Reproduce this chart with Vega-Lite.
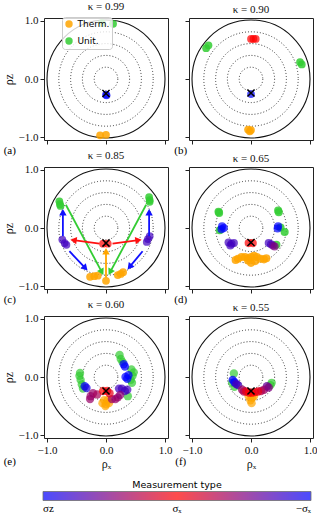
{
"$schema": "https://vega.github.io/schema/vega-lite/v6.json",
"padding": {"left": 1, "top": 0, "right": 0, "bottom": 0},
"datasets": {
"rings": [{"r": 0.2, "style": "dotted"}, {"r": 0.4, "style": "dotted"}, {"r": 0.6, "style": "dotted"}, {"r": 0.8, "style": "dotted"}, {"r": 1.0, "style": "solid"}],
"centers": [{"panel": "a", "x": 0, "y": -0.25}, {"panel": "b", "x": 0, "y": -0.24}, {"panel": "c", "x": 0, "y": -0.26}, {"panel": "d", "x": 0, "y": -0.25}, {"panel": "e", "x": 0, "y": -0.24}, {"panel": "f", "x": 0, "y": -0.24}],
"labels": [{"panel": "a", "label": "(a)", "x": -1.63, "y": -1.24}, {"panel": "b", "label": "(b)", "x": -1.19, "y": -1.24}, {"panel": "c", "label": "(c)", "x": -1.63, "y": -1.24}, {"panel": "d", "label": "(d)", "x": -1.19, "y": -1.24}, {"panel": "e", "label": "(e)", "x": -1.63, "y": -1.47}, {"panel": "f", "label": "(f)", "x": -1.19, "y": -1.47}],
"meas": [
{"panel": "a", "x": 0, "y": -0.27, "m": -1}, {"panel": "a", "x": 0.01, "y": -0.28, "m": -1},
{"panel": "b", "x": 0, "y": -0.26, "m": -1}, {"panel": "b", "x": 0.0, "y": 0.69, "m": 0}, {"panel": "b", "x": 0.04, "y": 0.69, "m": 0}, {"panel": "b", "x": 0.08, "y": 0.69, "m": 0},
{"panel": "c", "x": -0.05, "y": -0.27, "m": 0}, {"panel": "c", "x": 0.03, "y": -0.27, "m": 0},
{"panel": "c", "x": -0.74, "y": -0.2, "m": -0.75}, {"panel": "c", "x": -0.7, "y": -0.26, "m": -0.75}, {"panel": "c", "x": -0.67, "y": -0.29, "m": -0.75},
{"panel": "c", "x": 0.74, "y": -0.14, "m": -0.75}, {"panel": "c", "x": 0.71, "y": -0.19, "m": -0.75}, {"panel": "c", "x": 0.69, "y": -0.24, "m": -0.75},
{"panel": "d", "x": -0.49, "y": 0.03, "m": -1}, {"panel": "d", "x": -0.46, "y": 0.0, "m": -1}, {"panel": "d", "x": -0.5, "y": -0.02, "m": -1}, {"panel": "d", "x": 0.45, "y": -0.01, "m": -1}, {"panel": "d", "x": 0.46, "y": 0.03, "m": -1},
{"panel": "d", "x": -0.38, "y": -0.25, "m": -0.75}, {"panel": "d", "x": -0.33, "y": -0.27, "m": -0.75}, {"panel": "d", "x": -0.29, "y": -0.26, "m": -0.75}, {"panel": "d", "x": -0.35, "y": -0.3, "m": -0.75},
{"panel": "d", "x": 0.3, "y": -0.26, "m": -0.75}, {"panel": "d", "x": 0.34, "y": -0.28, "m": -0.75}, {"panel": "d", "x": 0.37, "y": -0.3, "m": -0.6},
{"panel": "d", "x": 0.4, "y": -0.32, "m": -0.5},
{"panel": "d", "x": -0.04, "y": -0.26, "m": 0}, {"panel": "d", "x": 0.03, "y": -0.26, "m": 0},
{"panel": "e", "x": 0.3, "y": 0.22, "m": -1}, {"panel": "e", "x": 0.32, "y": 0.18, "m": -1}, {"panel": "e", "x": 0.33, "y": 0.0, "m": -1}, {"panel": "e", "x": 0.36, "y": -0.03, "m": -1}, {"panel": "e", "x": 0.38, "y": 0.03, "m": -1}, {"panel": "e", "x": -0.36, "y": -0.16, "m": -1}, {"panel": "e", "x": -0.33, "y": -0.19, "m": -0.9},
{"panel": "e", "x": 0.22, "y": -0.2, "m": -0.75}, {"panel": "e", "x": 0.27, "y": -0.2, "m": -0.75}, {"panel": "e", "x": 0.32, "y": -0.24, "m": -0.75}, {"panel": "e", "x": 0.36, "y": -0.22, "m": -0.75},
{"panel": "e", "x": -0.22, "y": -0.28, "m": -0.4}, {"panel": "e", "x": -0.26, "y": -0.33, "m": -0.4}, {"panel": "e", "x": -0.27, "y": -0.38, "m": -0.4}, {"panel": "e", "x": 0.1, "y": -0.38, "m": -0.4}, {"panel": "e", "x": 0.16, "y": -0.38, "m": -0.4}, {"panel": "e", "x": 0.2, "y": -0.35, "m": -0.4}, {"panel": "e", "x": 0.24, "y": -0.31, "m": -0.45}, {"panel": "e", "x": -0.15, "y": -0.3, "m": -0.35},
{"panel": "e", "x": -0.05, "y": -0.24, "m": 0}, {"panel": "e", "x": 0.02, "y": -0.24, "m": 0}, {"panel": "e", "x": 0.06, "y": -0.28, "m": -0.1},
{"panel": "f", "x": -0.31, "y": -0.05, "m": -1}, {"panel": "f", "x": -0.28, "y": -0.09, "m": -1},
{"panel": "f", "x": -0.22, "y": -0.14, "m": -0.75}, {"panel": "f", "x": -0.25, "y": -0.12, "m": -0.75}, {"panel": "f", "x": 0.27, "y": -0.16, "m": -0.6},
{"panel": "f", "x": -0.15, "y": -0.22, "m": -0.4}, {"panel": "f", "x": -0.12, "y": -0.25, "m": -0.3}, {"panel": "f", "x": 0.22, "y": -0.22, "m": -0.4}, {"panel": "f", "x": 0.3, "y": -0.18, "m": -0.5}, {"panel": "f", "x": 0.17, "y": -0.24, "m": -0.3},
{"panel": "f", "x": -0.08, "y": -0.25, "m": -0.1}, {"panel": "f", "x": -0.03, "y": -0.27, "m": 0}, {"panel": "f", "x": 0.02, "y": -0.27, "m": 0}, {"panel": "f", "x": 0.07, "y": -0.26, "m": 0}, {"panel": "f", "x": 0.12, "y": -0.25, "m": -0.1}
],
"cat": [
{"panel": "a", "x": -0.1, "y": -0.97, "kind": "Therm."}, {"panel": "a", "x": 0.0, "y": -0.96, "kind": "Therm."}, {"panel": "a", "x": 0.12, "y": 0.95, "kind": "Unit."}, {"panel": "a", "x": -0.07, "y": 0.96, "kind": "Unit."},
{"panel": "b", "x": -0.76, "y": 0.53, "kind": "Unit."}, {"panel": "b", "x": -0.72, "y": 0.58, "kind": "Unit."}, {"panel": "b", "x": 0.83, "y": 0.29, "kind": "Unit."}, {"panel": "b", "x": 0.86, "y": 0.25, "kind": "Unit."},
{"panel": "b", "x": -0.05, "y": -0.87, "kind": "Therm."}, {"panel": "b", "x": 0.0, "y": -0.88, "kind": "Therm."}, {"panel": "b", "x": -0.02, "y": -0.9, "kind": "Therm."},
{"panel": "c", "x": -0.79, "y": 0.46, "kind": "Unit."}, {"panel": "c", "x": -0.78, "y": 0.41, "kind": "Unit."}, {"panel": "c", "x": -0.77, "y": 0.38, "kind": "Unit."}, {"panel": "c", "x": 0.73, "y": 0.53, "kind": "Unit."}, {"panel": "c", "x": 0.74, "y": 0.48, "kind": "Unit."}, {"panel": "c", "x": 0.74, "y": 0.45, "kind": "Unit."},
{"panel": "c", "x": -0.27, "y": -0.84, "kind": "Therm."}, {"panel": "c", "x": -0.2, "y": -0.83, "kind": "Therm."}, {"panel": "c", "x": -0.14, "y": -0.82, "kind": "Therm."}, {"panel": "c", "x": 0.0, "y": -0.91, "kind": "Therm."}, {"panel": "c", "x": 0.2, "y": -0.81, "kind": "Therm."}, {"panel": "c", "x": 0.25, "y": -0.79, "kind": "Therm."}, {"panel": "c", "x": 0.29, "y": -0.76, "kind": "Therm."},
{"panel": "d", "x": -0.55, "y": 0.28, "kind": "Unit."}, {"panel": "d", "x": -0.54, "y": 0.26, "kind": "Unit."}, {"panel": "d", "x": 0.46, "y": 0.3, "kind": "Unit."}, {"panel": "d", "x": 0.47, "y": 0.27, "kind": "Unit."}, {"panel": "d", "x": -0.53, "y": -0.04, "kind": "Unit."}, {"panel": "d", "x": 0.5, "y": 0.01, "kind": "Unit."}, {"panel": "d", "x": 0.57, "y": -0.07, "kind": "Unit."}, {"panel": "d", "x": 0.43, "y": -0.29, "kind": "Unit."},
{"panel": "d", "x": -0.26, "y": -0.55, "kind": "Therm."}, {"panel": "d", "x": -0.22, "y": -0.53, "kind": "Therm."}, {"panel": "d", "x": -0.16, "y": -0.5, "kind": "Therm."}, {"panel": "d", "x": -0.1, "y": -0.5, "kind": "Therm."}, {"panel": "d", "x": -0.05, "y": -0.52, "kind": "Therm."}, {"panel": "d", "x": 0.0, "y": -0.5, "kind": "Therm."}, {"panel": "d", "x": 0.05, "y": -0.48, "kind": "Therm."}, {"panel": "d", "x": 0.1, "y": -0.5, "kind": "Therm."}, {"panel": "d", "x": 0.16, "y": -0.53, "kind": "Therm."}, {"panel": "d", "x": 0.22, "y": -0.54, "kind": "Therm."}, {"panel": "d", "x": 0.26, "y": -0.52, "kind": "Therm."}, {"panel": "d", "x": 0.0, "y": -0.6, "kind": "Therm."}, {"panel": "d", "x": -0.05, "y": -0.56, "kind": "Therm."}, {"panel": "d", "x": 0.07, "y": -0.57, "kind": "Therm."},
{"panel": "e", "x": -0.44, "y": 0.07, "kind": "Unit."}, {"panel": "e", "x": -0.45, "y": 0.02, "kind": "Unit."}, {"panel": "e", "x": -0.43, "y": -0.05, "kind": "Unit."}, {"panel": "e", "x": -0.41, "y": -0.13, "kind": "Unit."}, {"panel": "e", "x": -0.39, "y": -0.2, "kind": "Unit."}, {"panel": "e", "x": 0.23, "y": 0.38, "kind": "Unit."}, {"panel": "e", "x": 0.25, "y": 0.31, "kind": "Unit."}, {"panel": "e", "x": 0.28, "y": 0.26, "kind": "Unit."}, {"panel": "e", "x": 0.43, "y": 0.13, "kind": "Unit."}, {"panel": "e", "x": 0.47, "y": 0.08, "kind": "Unit."}, {"panel": "e", "x": 0.45, "y": 0.02, "kind": "Unit."}, {"panel": "e", "x": 0.42, "y": -0.05, "kind": "Unit."}, {"panel": "e", "x": 0.44, "y": -0.1, "kind": "Unit."}, {"panel": "e", "x": 0.37, "y": -0.33, "kind": "Unit."},
{"panel": "e", "x": -0.03, "y": -0.4, "kind": "Therm."}, {"panel": "e", "x": 0.03, "y": -0.4, "kind": "Therm."}, {"panel": "e", "x": -0.06, "y": -0.45, "kind": "Therm."}, {"panel": "e", "x": 0.0, "y": -0.47, "kind": "Therm."}, {"panel": "e", "x": 0.05, "y": -0.45, "kind": "Therm."}, {"panel": "e", "x": -0.01, "y": -0.5, "kind": "Therm."},
{"panel": "f", "x": -0.29, "y": 0.06, "kind": "Unit."}, {"panel": "f", "x": -0.32, "y": -0.1, "kind": "Unit."}, {"panel": "f", "x": -0.28, "y": -0.17, "kind": "Unit."}, {"panel": "f", "x": 0.35, "y": -0.1, "kind": "Unit."}, {"panel": "f", "x": 0.33, "y": -0.14, "kind": "Unit."},
{"panel": "f", "x": -0.04, "y": -0.33, "kind": "Therm."}, {"panel": "f", "x": 0.02, "y": -0.36, "kind": "Therm."}, {"panel": "f", "x": 0.05, "y": -0.33, "kind": "Therm."}, {"panel": "f", "x": -0.01, "y": -0.4, "kind": "Therm."}, {"panel": "f", "x": 0.01, "y": -0.45, "kind": "Therm."}
],
"arrows": [
{"c": "green", "x": -0.68, "y": 0.4, "x2": -0.07, "y2": -0.76}, {"c": "green", "x": 0.68, "y": 0.4, "x2": 0.07, "y2": -0.76},
{"c": "blue", "x": -0.73, "y": -0.14, "x2": -0.73, "y2": 0.27}, {"c": "blue", "x": 0.73, "y": -0.14, "x2": 0.73, "y2": 0.27},
{"c": "blue", "x": -0.62, "y": -0.4, "x2": -0.35, "y2": -0.69}, {"c": "blue", "x": 0.62, "y": -0.4, "x2": 0.4, "y2": -0.67},
{"c": "red", "x": -0.11, "y": -0.27, "x2": -0.55, "y2": -0.21}, {"c": "red", "x": 0.11, "y": -0.27, "x2": 0.55, "y2": -0.21},
{"c": "orange", "x": 0, "y": -0.85, "x2": 0, "y2": -0.4}
]
},
"columns": 2,
"spacing": {"row": 27, "column": 21},
"bounds": "flush",
"concat": [
{"width": 124, "height": 122, "title": "κ = 0.99",
 "layer": [
  {"data": {"name": "rings"}, "transform": [{"filter": "datum.style == 'dotted'"}], "mark": {"type": "point", "shape": "circle", "filled": false, "color": "#333", "strokeWidth": 1, "strokeDash": [1, 2], "opacity": 1},
   "encoding": {"x": {"datum": 0, "type": "quantitative", "scale": {"domain": [-1.05, 1.05], "nice": false, "zero": false}, "axis": {"values": [-1, -0.5, 0, 0.5, 1], "format": ".1f", "labels": false, "title": null}},
    "y": {"datum": 0, "type": "quantitative", "scale": {"domain": [-1.05, 1.05], "nice": false, "zero": false}, "axis": {"values": [-1, -0.5, 0, 0.5, 1], "format": ".1f", "labels": true, "title": "ρz"}},
    "size": {"field": "r", "type": "quantitative", "scale": {"type": "pow", "exponent": 2, "domain": [0, 1], "range": [0, 13924]}, "legend": null}}},
  {"data": {"name": "rings"}, "transform": [{"filter": "datum.style == 'solid'"}], "mark": {"type": "point", "shape": "circle", "filled": false, "color": "#111", "strokeWidth": 1.1, "opacity": 1}, "encoding": {"x": {"datum": 0, "type": "quantitative"}, "y": {"datum": 0, "type": "quantitative"}, "size": {"field": "r", "type": "quantitative", "legend": null}}},
  {"data": {"name": "meas"}, "transform": [{"filter": "datum.panel == 'a'"}], "mark": {"type": "point", "filled": true, "size": 60, "opacity": 0.7}, "encoding": {"x": {"field": "x", "type": "quantitative", "title": null}, "y": {"field": "y", "type": "quantitative", "title": "ρz"}, "color": {"field": "m", "type": "quantitative", "scale": {"domain": [-1, 0, 1], "range": ["#0000ff", "#ff0000", "#0000ff"], "interpolate": "rgb"}, "legend": {"orient": "none", "direction": "horizontal", "title": "Measurement type", "values": [-1, 0, 1], "labelExpr": "datum.value == -1 ? 'σz' : datum.value == 0 ? 'σₓ' : '−σₓ'", "gradientLength": 268, "gradientThickness": 9, "legendX": -1, "legendY": 462, "titleAnchor": "middle", "titlePadding": 2, "titleFont": "DejaVu Sans", "titleFontWeight": "normal", "titleFontSize": 9.5, "labelFont": "Liberation Serif", "labelFontSize": 11, "labelAlign": "center", "labelOffset": 2, "gradientStrokeColor": "#333", "gradientStrokeWidth": 0.8}}}},
  {"data": {"name": "cat"}, "transform": [{"filter": "datum.panel == 'a'"}], "mark": {"type": "point", "filled": true, "size": 60, "opacity": 0.85}, "encoding": {"x": {"field": "x", "type": "quantitative", "title": null}, "y": {"field": "y", "type": "quantitative", "title": "ρz"}, "fill": {"field": "kind", "type": "nominal", "scale": {"domain": ["Therm.", "Unit."], "range": ["#ffa500", "#33cc33"]}, "legend": {"orient": "none", "legendX": 18, "legendY": -1, "title": null, "symbolType": "circle", "symbolSize": 55, "symbolOpacity": 1, "labelFont": "DejaVu Sans", "labelFontSize": 9, "labelOffset": 4, "fillColor": "rgba(255,255,255,0.8)", "strokeColor": "#ccc", "padding": 2.5, "cornerRadius": 3, "rowPadding": 7}}}},
  {"data": {"name": "centers"}, "transform": [{"filter": "datum.panel == 'a'"}], "mark": {"type": "point", "shape": "M-1,-1L1,1M-1,1L1,-1", "filled": false, "color": "black", "strokeWidth": 1.5, "size": 50, "opacity": 1}, "encoding": {"x": {"field": "x", "type": "quantitative", "title": null}, "y": {"field": "y", "type": "quantitative", "title": "ρz"}}},
  {"data": {"name": "labels"}, "transform": [{"filter": "datum.panel == 'a'"}], "mark": {"type": "text", "font": "Liberation Serif", "fontSize": 11, "align": "center", "baseline": "middle"}, "encoding": {"x": {"field": "x", "type": "quantitative", "title": null}, "y": {"field": "y", "type": "quantitative", "title": "ρz"}, "text": {"field": "label"}}}
 ]},
{"width": 124, "height": 122, "title": "κ = 0.90",
 "layer": [
  {"data": {"name": "rings"}, "transform": [{"filter": "datum.style == 'dotted'"}], "mark": {"type": "point", "shape": "circle", "filled": false, "color": "#333", "strokeWidth": 1, "strokeDash": [1, 2], "opacity": 1},
   "encoding": {"x": {"datum": 0, "type": "quantitative", "scale": {"domain": [-1.05, 1.05], "nice": false, "zero": false}, "axis": {"values": [-1, -0.5, 0, 0.5, 1], "format": ".1f", "labels": false, "title": null}},
    "y": {"datum": 0, "type": "quantitative", "scale": {"domain": [-1.05, 1.05], "nice": false, "zero": false}, "axis": {"values": [-1, -0.5, 0, 0.5, 1], "format": ".1f", "labels": false, "title": null}},
    "size": {"field": "r", "type": "quantitative", "legend": null}}},
  {"data": {"name": "rings"}, "transform": [{"filter": "datum.style == 'solid'"}], "mark": {"type": "point", "shape": "circle", "filled": false, "color": "#111", "strokeWidth": 1.1, "opacity": 1}, "encoding": {"x": {"datum": 0, "type": "quantitative"}, "y": {"datum": 0, "type": "quantitative"}, "size": {"field": "r", "type": "quantitative", "legend": null}}},
  {"data": {"name": "meas"}, "transform": [{"filter": "datum.panel == 'b'"}], "mark": {"type": "point", "filled": true, "size": 60, "opacity": 0.7}, "encoding": {"x": {"field": "x", "type": "quantitative", "title": null}, "y": {"field": "y", "type": "quantitative", "title": null}, "color": {"field": "m", "type": "quantitative"}}},
  {"data": {"name": "cat"}, "transform": [{"filter": "datum.panel == 'b'"}], "mark": {"type": "point", "filled": true, "size": 60, "opacity": 0.85}, "encoding": {"x": {"field": "x", "type": "quantitative", "title": null}, "y": {"field": "y", "type": "quantitative", "title": null}, "fill": {"field": "kind", "type": "nominal"}}},
  {"data": {"name": "centers"}, "transform": [{"filter": "datum.panel == 'b'"}], "mark": {"type": "point", "shape": "M-1,-1L1,1M-1,1L1,-1", "filled": false, "color": "black", "strokeWidth": 1.5, "size": 50, "opacity": 1}, "encoding": {"x": {"field": "x", "type": "quantitative", "title": null}, "y": {"field": "y", "type": "quantitative", "title": null}}},
  {"data": {"name": "labels"}, "transform": [{"filter": "datum.panel == 'b'"}], "mark": {"type": "text", "font": "Liberation Serif", "fontSize": 11, "align": "center", "baseline": "middle"}, "encoding": {"x": {"field": "x", "type": "quantitative", "title": null}, "y": {"field": "y", "type": "quantitative", "title": null}, "text": {"field": "label"}}}
 ]},
{"width": 124, "height": 122, "title": "κ = 0.85",
 "layer": [
  {"data": {"name": "rings"}, "transform": [{"filter": "datum.style == 'dotted'"}], "mark": {"type": "point", "shape": "circle", "filled": false, "color": "#333", "strokeWidth": 1, "strokeDash": [1, 2], "opacity": 1},
   "encoding": {"x": {"datum": 0, "type": "quantitative", "scale": {"domain": [-1.05, 1.05], "nice": false, "zero": false}, "axis": {"values": [-1, -0.5, 0, 0.5, 1], "format": ".1f", "labels": false, "title": null}},
    "y": {"datum": 0, "type": "quantitative", "scale": {"domain": [-1.05, 1.05], "nice": false, "zero": false}, "axis": {"values": [-1, -0.5, 0, 0.5, 1], "format": ".1f", "labels": true, "title": "ρz"}},
    "size": {"field": "r", "type": "quantitative", "legend": null}}},
  {"data": {"name": "rings"}, "transform": [{"filter": "datum.style == 'solid'"}], "mark": {"type": "point", "shape": "circle", "filled": false, "color": "#111", "strokeWidth": 1.1, "opacity": 1}, "encoding": {"x": {"datum": 0, "type": "quantitative"}, "y": {"datum": 0, "type": "quantitative"}, "size": {"field": "r", "type": "quantitative", "legend": null}}},
  {"data": {"name": "meas"}, "transform": [{"filter": "datum.panel == 'c'"}], "mark": {"type": "point", "filled": true, "size": 60, "opacity": 0.7}, "encoding": {"x": {"field": "x", "type": "quantitative", "title": null}, "y": {"field": "y", "type": "quantitative", "title": "ρz"}, "color": {"field": "m", "type": "quantitative"}}},
  {"data": {"name": "cat"}, "transform": [{"filter": "datum.panel == 'c'"}], "mark": {"type": "point", "filled": true, "size": 60, "opacity": 0.85}, "encoding": {"x": {"field": "x", "type": "quantitative", "title": null}, "y": {"field": "y", "type": "quantitative", "title": "ρz"}, "fill": {"field": "kind", "type": "nominal"}}},
  {"data": {"name": "arrows"}, "transform": [{"calculate": "atan2(datum.x2 - datum.x, datum.y2 - datum.y) * 180 / PI", "as": "ang"}],
   "layer": [
    {"transform": [{"filter": "datum.c == 'green'"}], "layer": [
      {"mark": {"type": "rule", "color": "#33cc33", "strokeWidth": 1.8}, "encoding": {"x": {"field": "x", "type": "quantitative", "title": null}, "y": {"field": "y", "type": "quantitative", "title": "ρz"}, "x2": {"field": "x2"}, "y2": {"field": "y2"}}},
      {"mark": {"type": "point", "shape": "triangle-up", "filled": true, "color": "#33cc33", "size": 55, "opacity": 1}, "encoding": {"x": {"field": "x2", "type": "quantitative", "title": null}, "y": {"field": "y2", "type": "quantitative", "title": "ρz"}, "angle": {"field": "ang", "type": "quantitative", "scale": null}}}]},
    {"transform": [{"filter": "datum.c == 'blue'"}], "layer": [
      {"mark": {"type": "rule", "color": "#1010ff", "strokeWidth": 1.8}, "encoding": {"x": {"field": "x", "type": "quantitative", "title": null}, "y": {"field": "y", "type": "quantitative", "title": "ρz"}, "x2": {"field": "x2"}, "y2": {"field": "y2"}}},
      {"mark": {"type": "point", "shape": "triangle-up", "filled": true, "color": "#1010ff", "size": 55, "opacity": 1}, "encoding": {"x": {"field": "x2", "type": "quantitative", "title": null}, "y": {"field": "y2", "type": "quantitative", "title": "ρz"}, "angle": {"field": "ang", "type": "quantitative", "scale": null}}}]},
    {"transform": [{"filter": "datum.c == 'red'"}], "layer": [
      {"mark": {"type": "rule", "color": "#ff1010", "strokeWidth": 1.8}, "encoding": {"x": {"field": "x", "type": "quantitative", "title": null}, "y": {"field": "y", "type": "quantitative", "title": "ρz"}, "x2": {"field": "x2"}, "y2": {"field": "y2"}}},
      {"mark": {"type": "point", "shape": "triangle-up", "filled": true, "color": "#ff1010", "size": 55, "opacity": 1}, "encoding": {"x": {"field": "x2", "type": "quantitative", "title": null}, "y": {"field": "y2", "type": "quantitative", "title": "ρz"}, "angle": {"field": "ang", "type": "quantitative", "scale": null}}}]},
    {"transform": [{"filter": "datum.c == 'orange'"}], "layer": [
      {"mark": {"type": "rule", "color": "#ffa500", "strokeWidth": 1.8}, "encoding": {"x": {"field": "x", "type": "quantitative", "title": null}, "y": {"field": "y", "type": "quantitative", "title": "ρz"}, "x2": {"field": "x2"}, "y2": {"field": "y2"}}},
      {"mark": {"type": "point", "shape": "triangle-up", "filled": true, "color": "#ffa500", "size": 55, "opacity": 1}, "encoding": {"x": {"field": "x2", "type": "quantitative", "title": null}, "y": {"field": "y2", "type": "quantitative", "title": "ρz"}, "angle": {"field": "ang", "type": "quantitative", "scale": null}}}]}
   ]},
  {"data": {"name": "centers"}, "transform": [{"filter": "datum.panel == 'c'"}], "mark": {"type": "point", "shape": "M-1,-1L1,1M-1,1L1,-1", "filled": false, "color": "black", "strokeWidth": 1.5, "size": 50, "opacity": 1}, "encoding": {"x": {"field": "x", "type": "quantitative", "title": null}, "y": {"field": "y", "type": "quantitative", "title": "ρz"}}},
  {"data": {"name": "labels"}, "transform": [{"filter": "datum.panel == 'c'"}], "mark": {"type": "text", "font": "Liberation Serif", "fontSize": 11, "align": "center", "baseline": "middle"}, "encoding": {"x": {"field": "x", "type": "quantitative", "title": null}, "y": {"field": "y", "type": "quantitative", "title": "ρz"}, "text": {"field": "label"}}}
 ]},
{"width": 124, "height": 122, "title": "κ = 0.65",
 "layer": [
  {"data": {"name": "rings"}, "transform": [{"filter": "datum.style == 'dotted'"}], "mark": {"type": "point", "shape": "circle", "filled": false, "color": "#333", "strokeWidth": 1, "strokeDash": [1, 2], "opacity": 1},
   "encoding": {"x": {"datum": 0, "type": "quantitative", "scale": {"domain": [-1.05, 1.05], "nice": false, "zero": false}, "axis": {"values": [-1, -0.5, 0, 0.5, 1], "format": ".1f", "labels": false, "title": null}},
    "y": {"datum": 0, "type": "quantitative", "scale": {"domain": [-1.05, 1.05], "nice": false, "zero": false}, "axis": {"values": [-1, -0.5, 0, 0.5, 1], "format": ".1f", "labels": false, "title": null}},
    "size": {"field": "r", "type": "quantitative", "legend": null}}},
  {"data": {"name": "rings"}, "transform": [{"filter": "datum.style == 'solid'"}], "mark": {"type": "point", "shape": "circle", "filled": false, "color": "#111", "strokeWidth": 1.1, "opacity": 1}, "encoding": {"x": {"datum": 0, "type": "quantitative"}, "y": {"datum": 0, "type": "quantitative"}, "size": {"field": "r", "type": "quantitative", "legend": null}}},
  {"data": {"name": "cat"}, "transform": [{"filter": "datum.panel == 'd'"}], "mark": {"type": "point", "filled": true, "size": 65, "opacity": 0.85}, "encoding": {"x": {"field": "x", "type": "quantitative", "title": null}, "y": {"field": "y", "type": "quantitative", "title": null}, "fill": {"field": "kind", "type": "nominal"}}},
  {"data": {"name": "meas"}, "transform": [{"filter": "datum.panel == 'd'"}], "mark": {"type": "point", "filled": true, "size": 65, "opacity": 0.7}, "encoding": {"x": {"field": "x", "type": "quantitative", "title": null}, "y": {"field": "y", "type": "quantitative", "title": null}, "color": {"field": "m", "type": "quantitative"}}},
  {"data": {"name": "centers"}, "transform": [{"filter": "datum.panel == 'd'"}], "mark": {"type": "point", "shape": "M-1,-1L1,1M-1,1L1,-1", "filled": false, "color": "black", "strokeWidth": 1.5, "size": 50, "opacity": 1}, "encoding": {"x": {"field": "x", "type": "quantitative", "title": null}, "y": {"field": "y", "type": "quantitative", "title": null}}},
  {"data": {"name": "labels"}, "transform": [{"filter": "datum.panel == 'd'"}], "mark": {"type": "text", "font": "Liberation Serif", "fontSize": 11, "align": "center", "baseline": "middle"}, "encoding": {"x": {"field": "x", "type": "quantitative", "title": null}, "y": {"field": "y", "type": "quantitative", "title": null}, "text": {"field": "label"}}}
 ]},
{"width": 124, "height": 122, "title": "κ = 0.60",
 "layer": [
  {"data": {"name": "rings"}, "transform": [{"filter": "datum.style == 'dotted'"}], "mark": {"type": "point", "shape": "circle", "filled": false, "color": "#333", "strokeWidth": 1, "strokeDash": [1, 2], "opacity": 1},
   "encoding": {"x": {"datum": 0, "type": "quantitative", "scale": {"domain": [-1.05, 1.05], "nice": false, "zero": false}, "axis": {"values": [-1, -0.5, 0, 0.5, 1], "format": ".1f", "labels": true, "title": "ρₓ"}},
    "y": {"datum": 0, "type": "quantitative", "scale": {"domain": [-1.05, 1.05], "nice": false, "zero": false}, "axis": {"values": [-1, -0.5, 0, 0.5, 1], "format": ".1f", "labels": true, "title": "ρz"}},
    "size": {"field": "r", "type": "quantitative", "legend": null}}},
  {"data": {"name": "rings"}, "transform": [{"filter": "datum.style == 'solid'"}], "mark": {"type": "point", "shape": "circle", "filled": false, "color": "#111", "strokeWidth": 1.1, "opacity": 1}, "encoding": {"x": {"datum": 0, "type": "quantitative"}, "y": {"datum": 0, "type": "quantitative"}, "size": {"field": "r", "type": "quantitative", "legend": null}}},
  {"data": {"name": "cat"}, "transform": [{"filter": "datum.panel == 'e'"}], "mark": {"type": "point", "filled": true, "size": 70, "opacity": 0.7}, "encoding": {"x": {"field": "x", "type": "quantitative", "title": "ρₓ"}, "y": {"field": "y", "type": "quantitative", "title": "ρz"}, "fill": {"field": "kind", "type": "nominal"}}},
  {"data": {"name": "meas"}, "transform": [{"filter": "datum.panel == 'e'"}], "mark": {"type": "point", "filled": true, "size": 70, "opacity": 0.7}, "encoding": {"x": {"field": "x", "type": "quantitative", "title": "ρₓ"}, "y": {"field": "y", "type": "quantitative", "title": "ρz"}, "color": {"field": "m", "type": "quantitative"}}},
  {"data": {"name": "centers"}, "transform": [{"filter": "datum.panel == 'e'"}], "mark": {"type": "point", "shape": "M-1,-1L1,1M-1,1L1,-1", "filled": false, "color": "black", "strokeWidth": 1.5, "size": 50, "opacity": 1}, "encoding": {"x": {"field": "x", "type": "quantitative", "title": "ρₓ"}, "y": {"field": "y", "type": "quantitative", "title": "ρz"}}},
  {"data": {"name": "labels"}, "transform": [{"filter": "datum.panel == 'e'"}], "mark": {"type": "text", "font": "Liberation Serif", "fontSize": 11, "align": "center", "baseline": "middle"}, "encoding": {"x": {"field": "x", "type": "quantitative", "title": "ρₓ"}, "y": {"field": "y", "type": "quantitative", "title": "ρz"}, "text": {"field": "label"}}}
 ]},
{"width": 124, "height": 122, "title": "κ = 0.55",
 "layer": [
  {"data": {"name": "rings"}, "transform": [{"filter": "datum.style == 'dotted'"}], "mark": {"type": "point", "shape": "circle", "filled": false, "color": "#333", "strokeWidth": 1, "strokeDash": [1, 2], "opacity": 1},
   "encoding": {"x": {"datum": 0, "type": "quantitative", "scale": {"domain": [-1.05, 1.05], "nice": false, "zero": false}, "axis": {"values": [-1, -0.5, 0, 0.5, 1], "format": ".1f", "labels": true, "title": "ρₓ"}},
    "y": {"datum": 0, "type": "quantitative", "scale": {"domain": [-1.05, 1.05], "nice": false, "zero": false}, "axis": {"values": [-1, -0.5, 0, 0.5, 1], "format": ".1f", "labels": false, "title": null}},
    "size": {"field": "r", "type": "quantitative", "legend": null}}},
  {"data": {"name": "rings"}, "transform": [{"filter": "datum.style == 'solid'"}], "mark": {"type": "point", "shape": "circle", "filled": false, "color": "#111", "strokeWidth": 1.1, "opacity": 1}, "encoding": {"x": {"datum": 0, "type": "quantitative"}, "y": {"datum": 0, "type": "quantitative"}, "size": {"field": "r", "type": "quantitative", "legend": null}}},
  {"data": {"name": "cat"}, "transform": [{"filter": "datum.panel == 'f'"}], "mark": {"type": "point", "filled": true, "size": 70, "opacity": 0.7}, "encoding": {"x": {"field": "x", "type": "quantitative", "title": "ρₓ"}, "y": {"field": "y", "type": "quantitative", "title": null}, "fill": {"field": "kind", "type": "nominal"}}},
  {"data": {"name": "meas"}, "transform": [{"filter": "datum.panel == 'f'"}], "mark": {"type": "point", "filled": true, "size": 70, "opacity": 0.75}, "encoding": {"x": {"field": "x", "type": "quantitative", "title": "ρₓ"}, "y": {"field": "y", "type": "quantitative", "title": null}, "color": {"field": "m", "type": "quantitative"}}},
  {"data": {"name": "centers"}, "transform": [{"filter": "datum.panel == 'f'"}], "mark": {"type": "point", "shape": "M-1,-1L1,1M-1,1L1,-1", "filled": false, "color": "black", "strokeWidth": 1.5, "size": 50, "opacity": 1}, "encoding": {"x": {"field": "x", "type": "quantitative", "title": "ρₓ"}, "y": {"field": "y", "type": "quantitative", "title": null}}},
  {"data": {"name": "labels"}, "transform": [{"filter": "datum.panel == 'f'"}], "mark": {"type": "text", "font": "Liberation Serif", "fontSize": 11, "align": "center", "baseline": "middle"}, "encoding": {"x": {"field": "x", "type": "quantitative", "title": "ρₓ"}, "y": {"field": "y", "type": "quantitative", "title": null}, "text": {"field": "label"}}}
 ]}
],
"config": {
 "font": "Liberation Serif",
 "view": {"stroke": "#222", "strokeWidth": 1},
 "axis": {"grid": false, "domain": false, "tickColor": "#222", "tickSize": 4, "labelFontSize": 11, "labelColor": "#111", "titleFontSize": 12, "titleFontWeight": "normal", "titleColor": "#111", "labelFont": "Liberation Serif", "titleFont": "Liberation Serif", "labelPadding": 2, "titlePadding": 3},
 "title": {"fontSize": 11, "fontWeight": "normal", "font": "Liberation Serif", "offset": 3, "color": "#111"}
}
}
